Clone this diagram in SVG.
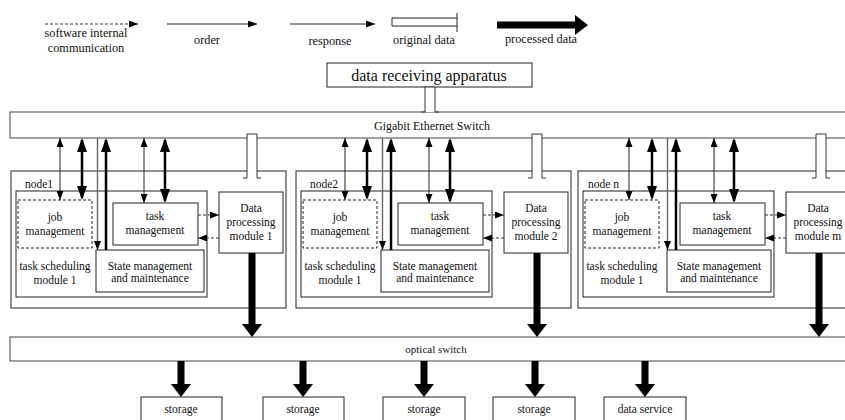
<svg xmlns="http://www.w3.org/2000/svg" width="845" height="420" viewBox="0 0 845 420">
<style>
text{font-family:"Liberation Serif","Times New Roman",serif;font-size:11.5px;fill:#111;text-anchor:middle}
.lg{font-size:12.3px}
.box{fill:#fff;stroke:#222;stroke-width:1}
.dbox{fill:#fff;stroke:#222;stroke-width:1;stroke-dasharray:3,2}
.thin{stroke:#222;stroke-width:1;fill:none}
.thick{stroke:#000;stroke-width:2.5;fill:none}
.ord{stroke:#666;stroke-width:1.4;fill:none}
.dash{stroke:#333;stroke-width:1.2;stroke-dasharray:3,2;fill:none}
.big{stroke:#000;stroke-width:7;fill:none}
.od{fill:#fff;stroke:#333;stroke-width:1}
</style>
<defs>
<marker id="a" viewBox="0 0 9 7" refX="9" refY="3.5" markerWidth="9" markerHeight="7" markerUnits="userSpaceOnUse" orient="auto-start-reverse"><path d="M0,0 L9,3.5 L0,7 z" fill="#000"/></marker>
<marker id="b" viewBox="0 0 14 10" refX="12" refY="5" markerWidth="14" markerHeight="10" markerUnits="userSpaceOnUse" orient="auto-start-reverse"><path d="M0,0 L14,5 L0,10 z" fill="#000"/></marker>
<marker id="c" viewBox="0 0 13 20" refX="1" refY="10" markerWidth="13" markerHeight="20" markerUnits="userSpaceOnUse" orient="auto"><path d="M0,0 L13,10 L0,20 z" fill="#000"/></marker>
</defs>
<rect width="845" height="420" fill="#fff"/>

<g id="legend">
<line x1="45" y1="24" x2="138" y2="24" class="dash" marker-end="url(#a)"/>
<text x="86" y="37" class="lg">software internal</text>
<text x="86" y="52" class="lg">communication</text>
<line x1="167" y1="24" x2="257" y2="24" class="ord" marker-end="url(#a)"/>
<text x="207" y="44" class="lg">order</text>
<line x1="290" y1="24" x2="375" y2="24" class="thin" marker-end="url(#a)"/>
<text x="330" y="45" class="lg">response</text>
<path d="M457,18 H392 V26 H457" class="thin"/>
<line x1="457" y1="13" x2="457" y2="32" class="thin"/>
<text x="424" y="44" class="lg">original data</text>
<line x1="497" y1="25" x2="576" y2="25" class="big" marker-end="url(#c)"/>
<text x="541" y="43" class="lg">processed data</text>
</g>

<g id="apparatus">
<rect x="327" y="63" width="205" height="24" class="box"/>
<text x="429" y="81" style="font-size:16px">data receiving apparatus</text>
</g>

<g id="gigabit-switch">
<rect x="10" y="112" width="845" height="26" class="box" style="stroke:#444"/>
<text x="432" y="130" style="font-size:12px">Gigabit Ethernet Switch</text>
</g>

<g id="node1">
<rect x="11" y="171" width="275" height="137" class="box"/>
<text x="25" y="188" style="text-anchor:start">node1</text>
<rect x="16" y="191" width="191" height="106" class="box"/>
<text x="55" y="270">task scheduling</text>
<text x="55" y="284">module 1</text>
<rect x="18" y="200" width="74" height="48" class="dbox"/>
<text x="55" y="221">job</text>
<text x="55" y="235">management</text>
<rect x="113" y="203" width="85" height="42" class="box"/>
<text x="155" y="220">task</text>
<text x="155" y="234">management</text>
<rect x="96" y="250" width="108" height="42" class="box"/>
<text x="150" y="270">State management</text>
<text x="150" y="282">and maintenance</text>
<rect x="219" y="192" width="64" height="61" class="box"/>
<text x="251" y="212">Data</text>
<text x="251" y="226">processing</text>
<text x="251" y="240">module 1</text>
</g>

<g id="node2" transform="translate(285,0)">
<rect x="11" y="171" width="275" height="137" class="box"/>
<text x="25" y="188" style="text-anchor:start">node2</text>
<rect x="16" y="191" width="191" height="106" class="box"/>
<text x="55" y="270">task scheduling</text>
<text x="55" y="284">module 1</text>
<rect x="18" y="200" width="74" height="48" class="dbox"/>
<text x="55" y="221">job</text>
<text x="55" y="235">management</text>
<rect x="113" y="203" width="85" height="42" class="box"/>
<text x="155" y="220">task</text>
<text x="155" y="234">management</text>
<rect x="96" y="250" width="108" height="42" class="box"/>
<text x="150" y="270">State management</text>
<text x="150" y="282">and maintenance</text>
<rect x="219" y="192" width="64" height="61" class="box"/>
<text x="251" y="212">Data</text>
<text x="251" y="226">processing</text>
<text x="251" y="240">module 2</text>
</g>

<g id="noden" transform="translate(567,0)">
<rect x="11" y="171" width="275" height="137" class="box"/>
<text x="21" y="188" style="text-anchor:start">node n</text>
<rect x="16" y="191" width="191" height="106" class="box"/>
<text x="55" y="270">task scheduling</text>
<text x="55" y="284">module 1</text>
<rect x="18" y="200" width="74" height="48" class="dbox"/>
<text x="55" y="221">job</text>
<text x="55" y="235">management</text>
<rect x="113" y="203" width="85" height="42" class="box"/>
<text x="155" y="220">task</text>
<text x="155" y="234">management</text>
<rect x="100" y="250" width="104" height="42" class="box"/>
<text x="152" y="270">State management</text>
<text x="152" y="282">and maintenance</text>
<rect x="219" y="192" width="64" height="61" class="box"/>
<text x="251" y="212">Data</text>
<text x="251" y="226">processing</text>
<text x="251" y="240">module m</text>
</g>

<g id="optical-switch">
<rect x="10" y="337" width="845" height="24" class="box" style="stroke:#444"/>
<text x="436" y="353" style="font-size:11px">optical switch</text>
</g>

<g id="storage1"><rect x="141" y="397" width="81" height="30" class="box"/><text x="181" y="413">storage</text></g>
<g id="storage2"><rect x="263" y="397" width="81" height="30" class="box"/><text x="303" y="413">storage</text></g>
<g id="storage3"><rect x="383" y="397" width="82" height="30" class="box"/><text x="424" y="413">storage</text></g>
<g id="storage4"><rect x="493" y="397" width="82" height="30" class="box"/><text x="534" y="413">storage</text></g>
<g id="data-service"><rect x="604" y="397" width="82" height="30" class="box"/><text x="645" y="413">data service</text></g>

<g id="connectors">
<path d="M421,112 H425 V87 H435 V112 H439" class="od"/>
<g id="c-node1">
<line x1="60" y1="138" x2="60" y2="200" class="thin" marker-start="url(#a)" marker-end="url(#a)"/>
<line x1="82" y1="140" x2="82" y2="198" class="thick" marker-start="url(#b)" marker-end="url(#b)"/>
<line x1="97.5" y1="138" x2="97.5" y2="250" class="ord" marker-end="url(#a)"/>
<line x1="106" y1="250" x2="106" y2="140" class="thick" marker-end="url(#b)"/>
<line x1="144" y1="138" x2="144" y2="203" class="thin" marker-start="url(#a)" marker-end="url(#a)"/>
<line x1="165" y1="140" x2="165" y2="201" class="thick" marker-start="url(#b)" marker-end="url(#b)"/>
<path d="M243,178 H247 V134 H257 V178 H261" class="od"/>
<line x1="198" y1="215" x2="219" y2="215" class="dash" marker-end="url(#a)"/>
<line x1="219" y1="238" x2="198" y2="238" class="dash" marker-end="url(#a)"/>
<line x1="252" y1="253" x2="252" y2="325" class="big" marker-end="url(#c)"/>
</g>
<g id="c-node2" transform="translate(285,0)">
<line x1="60" y1="138" x2="60" y2="200" class="thin" marker-start="url(#a)" marker-end="url(#a)"/>
<line x1="82" y1="140" x2="82" y2="198" class="thick" marker-start="url(#b)" marker-end="url(#b)"/>
<line x1="97.5" y1="138" x2="97.5" y2="250" class="ord" marker-end="url(#a)"/>
<line x1="106" y1="250" x2="106" y2="140" class="thick" marker-end="url(#b)"/>
<line x1="144" y1="138" x2="144" y2="203" class="thin" marker-start="url(#a)" marker-end="url(#a)"/>
<line x1="165" y1="140" x2="165" y2="201" class="thick" marker-start="url(#b)" marker-end="url(#b)"/>
<path d="M243,178 H247 V134 H257 V178 H261" class="od"/>
<line x1="198" y1="215" x2="219" y2="215" class="dash" marker-end="url(#a)"/>
<line x1="219" y1="238" x2="198" y2="238" class="dash" marker-end="url(#a)"/>
<line x1="252" y1="253" x2="252" y2="325" class="big" marker-end="url(#c)"/>
</g>
<g id="c-noden" transform="translate(567,0)">
<line x1="62" y1="138" x2="62" y2="200" class="thin" marker-start="url(#a)" marker-end="url(#a)"/>
<line x1="85" y1="140" x2="85" y2="198" class="thick" marker-start="url(#b)" marker-end="url(#b)"/>
<line x1="100.5" y1="138" x2="100.5" y2="250" class="ord" marker-end="url(#a)"/>
<line x1="109" y1="250" x2="109" y2="140" class="thick" marker-end="url(#b)"/>
<line x1="147" y1="138" x2="147" y2="203" class="thin" marker-start="url(#a)" marker-end="url(#a)"/>
<line x1="167" y1="140" x2="167" y2="201" class="thick" marker-start="url(#b)" marker-end="url(#b)"/>
<path d="M245,178 H249 V134 H259 V178 H263" class="od"/>
<line x1="198" y1="215" x2="219" y2="215" class="dash" marker-end="url(#a)"/>
<line x1="219" y1="238" x2="198" y2="238" class="dash" marker-end="url(#a)"/>
<line x1="252" y1="253" x2="252" y2="325" class="big" marker-end="url(#c)"/>
</g>
<line x1="181" y1="361" x2="181" y2="385" class="big" marker-end="url(#c)"/>
<line x1="303" y1="361" x2="303" y2="385" class="big" marker-end="url(#c)"/>
<line x1="424" y1="361" x2="424" y2="385" class="big" marker-end="url(#c)"/>
<line x1="535" y1="361" x2="535" y2="385" class="big" marker-end="url(#c)"/>
<line x1="645" y1="361" x2="645" y2="385" class="big" marker-end="url(#c)"/>
</g>
</svg>
